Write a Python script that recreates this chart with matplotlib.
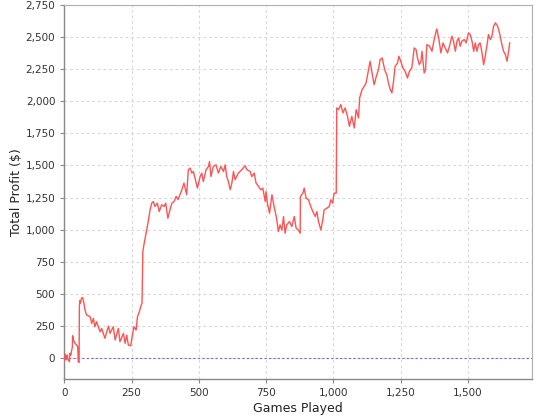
import matplotlib
matplotlib.use("Agg")
import matplotlib.pyplot as plt
from matplotlib.ticker import FuncFormatter

games = [0, 4, 6, 9, 11, 14, 19, 21, 24, 30, 31, 34, 40, 46, 50, 52, 55,
         56, 58, 60, 64, 68, 72, 77, 83, 96, 102, 108, 114, 120, 133, 139, 151,
         164, 170, 182, 189, 201, 207, 220, 226, 232, 238, 247, 252, 259, 267,
         272, 279, 284, 289, 292, 297, 304, 313, 319, 325, 331, 337, 346, 353,
         362, 371, 377, 385, 393, 400, 408, 416, 423, 430, 437, 445, 455, 461,
         468, 474, 480, 486, 495, 505, 511, 517, 527, 536, 540, 545, 554, 564,
         573, 582, 592, 598, 604, 610, 617, 623, 629, 635, 647, 660, 672, 679,
         691, 697, 706, 713, 722, 731, 738, 747, 750, 755, 763, 772, 780, 788,
         796, 802, 809, 815, 821, 827, 837, 846, 855, 862, 870, 877, 878, 887,
         892, 899, 908, 914, 924, 933, 939, 945, 954, 961, 966, 976, 985, 991,
         998, 1003, 1011, 1013, 1019, 1028, 1036, 1044, 1053, 1060, 1069, 1078,
         1085, 1094, 1098, 1107, 1115, 1122, 1131, 1137, 1144, 1152, 1160, 1168,
         1174, 1182, 1187, 1193, 1199, 1205, 1212, 1218, 1224, 1230, 1239, 1244,
         1251, 1259, 1267, 1276, 1283, 1292, 1301, 1308, 1313, 1320, 1326, 1330,
         1338, 1343, 1348, 1358, 1367, 1375, 1385, 1393, 1400, 1408, 1416, 1425,
         1432, 1441, 1447, 1454, 1460, 1466, 1472, 1478, 1487, 1494, 1503, 1509,
         1516, 1522, 1528, 1534, 1540, 1546, 1553, 1559, 1565, 1571, 1577, 1584,
         1590, 1596, 1603, 1611, 1618, 1627, 1633, 1640, 1646, 1652, 1656]

profit = [0, 33, -13, 20, 26, -10, -26, 40, 26, 90, 176, 143, 117, 104, 90, -26, -31,
          402, 450, 430, 470, 472, 440, 376, 337, 324, 272, 311, 246, 285, 207, 233, 156,
          251, 195, 246, 143, 233, 130, 195, 117, 181, 104, 98, 168, 246, 220,
          324, 363, 402, 430, 830, 896, 973, 1077, 1155, 1207, 1220, 1181, 1207, 1142,
          1194, 1181, 1207, 1090, 1155, 1207, 1220, 1260, 1235, 1272, 1311, 1363, 1272, 1466,
          1480, 1441, 1453, 1402, 1324, 1414, 1441, 1375, 1467, 1492, 1531, 1414, 1492, 1505,
          1441, 1492, 1453, 1505, 1414, 1375, 1311, 1363, 1453, 1389, 1441, 1467, 1498, 1467,
          1453, 1414, 1441, 1363, 1337, 1311, 1324, 1220, 1298, 1207, 1129, 1272, 1181, 1103,
          986, 1038, 999, 1103, 973, 1038, 1064, 1025, 1103, 1012, 999, 973, 1259, 1285,
          1324, 1246, 1233, 1194, 1142, 1103, 1142, 1064, 999, 1077, 1155, 1168, 1181, 1233,
          1207, 1285, 1285, 1947, 1934, 1973, 1908, 1947, 1882, 1804, 1882, 1791,
          1934, 1869, 2025, 2090, 2115, 2142, 2245, 2310, 2220, 2128, 2193, 2245,
          2323, 2336, 2284, 2232, 2206, 2142, 2090, 2064, 2154, 2271, 2297, 2349,
          2310, 2258, 2232, 2180, 2232, 2258, 2414, 2401, 2336, 2284, 2310, 2388,
          2219, 2245, 2440, 2427, 2388, 2479, 2562, 2479, 2375, 2453, 2414, 2375,
          2427, 2505, 2466, 2388, 2466, 2492, 2427, 2466, 2479, 2453, 2531, 2518,
          2466, 2388, 2453, 2388, 2440, 2453, 2375, 2284, 2349, 2427, 2518, 2479,
          2505, 2583, 2609, 2583, 2531, 2440, 2388, 2362, 2310, 2388, 2453]

x_ticks = [0, 250, 500, 750, 1000, 1250, 1500]
y_ticks = list(range(0, 2751, 250))

fig = plt.figure(figsize=(5.4, 4.2), dpi=100)
ax = fig.add_axes([64.3 / 540, 41 / 420, (532.3 - 64.3) / 540, (379 - 4.7) / 420])

ax.set_xlim(0, 1740)
ax.set_ylim(-160, 2750)
ax.set_xticks(x_ticks)
ax.set_yticks(y_ticks)
fmt = FuncFormatter(lambda v, p: f"{int(v):,}")
ax.xaxis.set_major_formatter(fmt)
ax.yaxis.set_major_formatter(fmt)

ax.grid(True, color="#d8d8d8", linestyle=(0, (2.5, 2.5)), linewidth=0.8)
ax.set_axisbelow(True)

ax.axhline(0, color="#6a6aff", linestyle=(0, (2, 2)), linewidth=0.8, zorder=2)
ax.plot(games, profit, color="#ff5555", linewidth=1.0, zorder=3)

for side in ["top", "right"]:
    ax.spines[side].set_color("#b0b0b0")
for side in ["left", "bottom"]:
    ax.spines[side].set_color("#888888")
    ax.spines[side].set_linewidth(1.0)

ax.tick_params(axis="both", labelsize=7.5, colors="#333333", length=3, width=0.8,
               direction="out")
ax.tick_params(axis="both", color="#888888")

ax.set_xlabel("Games Played", fontsize=9, color="#222222", labelpad=3)
ax.set_ylabel("Total Profit ($)", fontsize=9, color="#222222", labelpad=2)

fig.savefig("out.png", dpi=100, facecolor="white")
